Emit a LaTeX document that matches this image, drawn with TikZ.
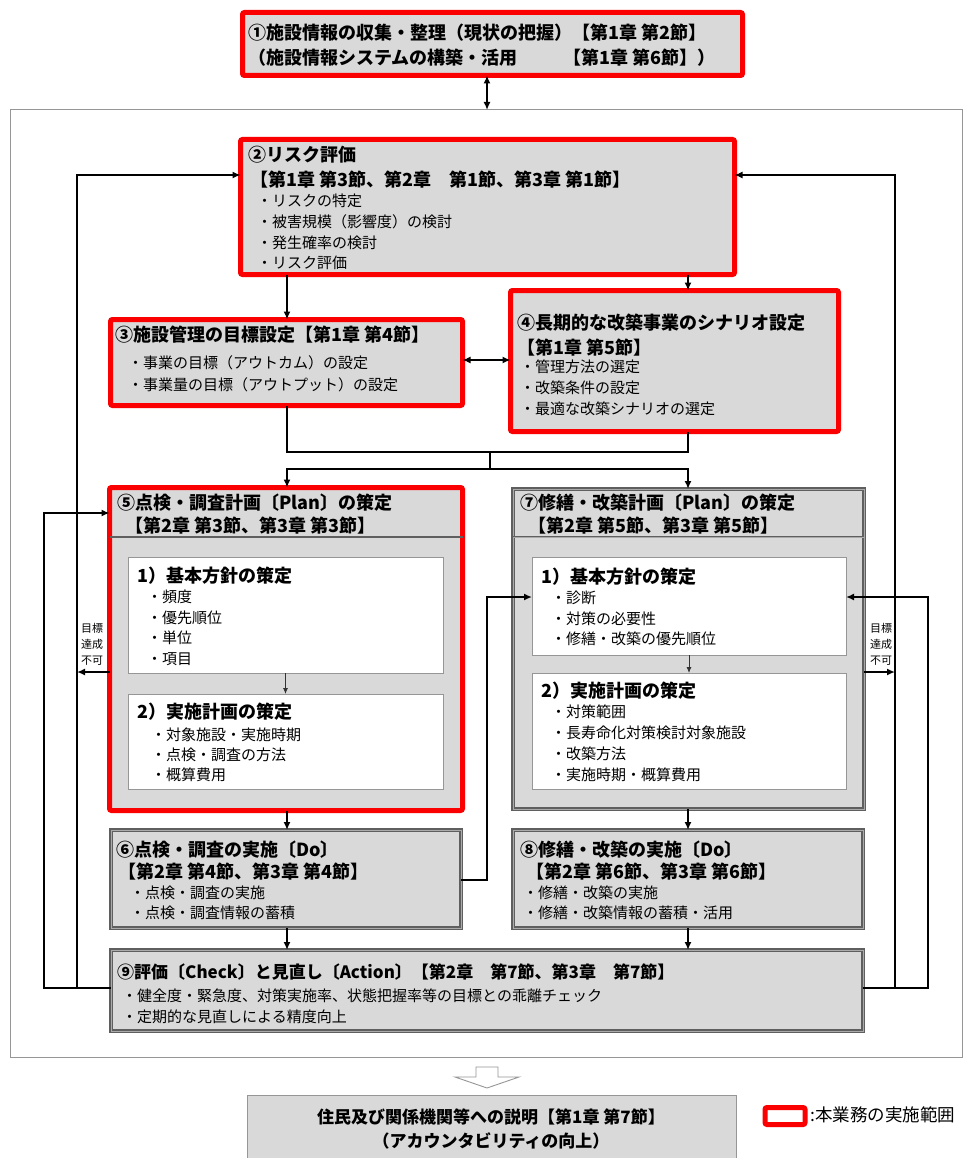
\documentclass[tikz,border=0pt]{standalone}
\usepackage{fontspec}
\setmainfont{Noto Sans CJK JP}
\usetikzlibrary{arrows.meta}
\definecolor{boxfill}{RGB}{217,217,217}
\definecolor{redline}{RGB}{250,0,0}
\definecolor{bordergray}{RGB}{95,95,95}
\definecolor{bevelgray}{RGB}{170,170,170}
\definecolor{thingray}{RGB}{150,150,150}
\newcommand{\mkbox}[6]{\node[#1, anchor=north west, minimum width={(#5-#3)*1pt}, minimum height={(#6-#4)*1pt}] (#2) at (#3,#4) {};}
\tikzset{
  redbox/.style={draw=redline, line width=5pt, fill=boxfill, rounded corners=2pt, inner sep=0pt, outer sep=0pt},
  legbox/.style={draw=redline, line width=5pt, fill=white, rounded corners=2pt, inner sep=0pt, outer sep=0pt},
  graybox/.style={draw=bordergray, double=bevelgray, double distance=1pt, line width=1.4pt, fill=boxfill, inner sep=0pt, outer sep=0pt},
  whitebox/.style={draw=thingray, line width=1pt, fill=white, inner sep=0pt, outer sep=0pt},
  framebox/.style={draw=thingray, line width=1pt, fill=none, inner sep=0pt, outer sep=0pt},
  plainbox/.style={draw=thingray, line width=1pt, fill=boxfill, inner sep=0pt, outer sep=0pt},
  ttl/.style={anchor=west, font=\bfseries\fontsize{18}{18}\selectfont, inner sep=0pt},
  ttlb/.style={anchor=west, font=\bfseries\fontsize{17}{17}\selectfont, inner sep=0pt},
  itm/.style={anchor=west, font=\fontsize{15}{15}\selectfont, inner sep=0pt},
  conn/.style={draw=black, line width=1.8pt, -{Latex[length=8pt,width=7pt]}},
  dconn/.style={draw=black, line width=1.8pt, {Latex[length=8pt,width=7pt]}-{Latex[length=8pt,width=7pt]}},
  thinconn/.style={draw=black!80, line width=0.8pt, -{Latex[length=6pt,width=5pt]}},
  wire/.style={draw=black, line width=1.8pt},
  seprule/.style={draw=bordergray, line width=2pt},
  smalllbl/.style={align=center, font=\fontsize{11}{16}\selectfont, inner sep=0pt},
}
\begin{document}
\begin{tikzpicture}[x=1pt,y=-1pt]
\useasboundingbox (0,0) rectangle (965,1158);
\fill[white] (0,0) rectangle (965,1158);

% frame
\mkbox{framebox}{fr}{10}{110}{962}{1057}

% boxes
\mkbox{redbox}{b1}{242.5}{12.5}{742.5}{75.5}
\mkbox{redbox}{b2}{240.5}{139.5}{734.5}{274.5}
\mkbox{redbox}{b3}{110.5}{319.5}{462.5}{405.5}
\mkbox{redbox}{b4}{510.5}{290.5}{838.5}{431.5}
\mkbox{redbox}{b5}{109.5}{487.5}{462.5}{810.5}
\mkbox{graybox}{b7}{513}{489}{864}{809}
\mkbox{graybox}{b6}{111}{830}{461}{928}
\mkbox{graybox}{b8}{513}{830}{863}{928}
\mkbox{graybox}{b9}{111}{950}{863}{1031}
\mkbox{plainbox}{b10}{247}{1095}{736}{1175}

% header separators
\coordinate (ysep) at (0,537);
\draw[seprule] (b5.west |- ysep) -- (b5.east |- ysep);
\draw[draw=bordergray, double=bevelgray, double distance=0.8pt, line width=1pt] (b7.west |- ysep) -- (b7.east |- ysep);

% inner boxes
\mkbox{whitebox}{b5a}{128}{557}{443}{673}
\mkbox{whitebox}{b5b}{128}{694}{443}{789}
\mkbox{whitebox}{b7a}{532}{557}{846}{655}
\mkbox{whitebox}{b7b}{532}{673}{846}{789}

% texts box 1
\node[ttl] (t1a) at (248,33) {①施設情報の収集・整理（現状の把握）【第1章 第2節】};
\node[ttl] (t1b) at (248,58) {（施設情報システムの構築・活用};
\node[ttl] (t1c) at (563,58) {【第1章 第6節】）};

% box 2
\node[ttl] (t2a) at (248,155) {②リスク評価};
\node[ttl] (t2b) at (250,180) {【第1章 第3節、第2章　第1節、第3章 第1節】};
\node[itm] (t2c) at (257,201) {・リスクの特定};
\node[itm] (t2d) at (257,222) {・被害規模（影響度）の検討};
\node[itm] (t2e) at (257,243) {・発生確率の検討};
\node[itm] (t2f) at (257,263) {・リスク評価};

% box 3
\node[ttl] (t3a) at (115,335) {③施設管理の目標設定【第1章 第4節】};
\node[itm] (t3b) at (128,363) {・事業の目標（アウトカム）の設定};
\node[itm] (t3c) at (128,385) {・事業量の目標（アウトプット）の設定};

% box 4
\node[ttl] (t4a) at (517,323) {④長期的な改築事業のシナリオ設定};
\node[ttl] (t4b) at (517,348) {【第1章 第5節】};
\node[itm] (t4c) at (520,367) {・管理方法の選定};
\node[itm] (t4d) at (520,388) {・改築条件の設定};
\node[itm] (t4e) at (520,409) {・最適な改築シナリオの選定};

% box 5
\node[ttl] (t5a) at (117,503) {⑤点検・調査計画〔Plan〕の策定};
\node[ttl] (t5b) at (125,526) {【第2章 第3節、第3章 第3節】};
\node[ttl] (t5c) at (137,576) {1）基本方針の策定};
\node[itm] (t5d) at (147,597) {・頻度};
\node[itm] (t5e) at (147,618) {・優先順位};
\node[itm] (t5f) at (147,638) {・単位};
\node[itm] (t5g) at (147,659) {・項目};
\node[ttl] (t5h) at (137,712) {2）実施計画の策定};
\node[itm] (t5i) at (151,735) {・対象施設・実施時期};
\node[itm] (t5j) at (151,755) {・点検・調査の方法};
\node[itm] (t5k) at (151,775) {・概算費用};

% box 7
\node[ttl] (t7a) at (520,503) {⑦修繕・改築計画〔Plan〕の策定};
\node[ttl] (t7b) at (528,526) {【第2章 第5節、第3章 第5節】};
\node[ttl] (t7c) at (541,577) {1）基本方針の策定};
\node[itm] (t7d) at (551,598) {・診断};
\node[itm] (t7e) at (551,619) {・対策の必要性};
\node[itm] (t7f) at (551,639) {・修繕・改築の優先順位};
\node[ttl] (t7g) at (541,691) {2）実施計画の策定};
\node[itm] (t7h) at (551,712) {・対策範囲};
\node[itm] (t7i) at (551,733) {・長寿命化対策検討対象施設};
\node[itm] (t7j) at (551,754) {・改築方法};
\node[itm] (t7k) at (551,775) {・実施時期・概算費用};

% box 6
\node[ttl] (t6a) at (116,850) {⑥点検・調査の実施〔Do〕};
\node[ttl] (t6b) at (118,872) {【第2章 第4節、第3章 第4節】};
\node[itm] (t6c) at (130,893) {・点検・調査の実施};
\node[itm] (t6d) at (130,913) {・点検・調査情報の蓄積};

% box 8
\node[ttl] (t8a) at (520,850) {⑧修繕・改築の実施〔Do〕};
\node[ttl] (t8b) at (526,872) {【第2章 第6節、第3章 第6節】};
\node[itm] (t8c) at (523,893) {・修繕・改築の実施};
\node[itm] (t8d) at (523,913) {・修繕・改築情報の蓄積・活用};

% box 9
\node[ttlb] (t9a) at (117,972) {⑨評価〔Check〕と見直し〔Action〕【第2章　第7節、第3章　第7節】};
\node[itm] (t9b) at (122,996) {・健全度・緊急度、対策実施率、状態把握率等の目標との乖離チェック};
\node[itm] (t9c) at (122,1017) {・定期的な見直しによる精度向上};

% box 10
\node[anchor=center, font=\bfseries\fontsize{17}{17}\selectfont, inner sep=0pt] (t10a) at (491,1117) {住民及び関係機関等への説明【第1章 第7節】};
\node[anchor=center, font=\bfseries\fontsize{17}{17}\selectfont, inner sep=0pt] (t10b) at (491,1141) {（アカウンタビリティの向上）};

% labels
\node[smalllbl] (lblL) at (92,644) {目標\\達成\\不可};
\node[smalllbl] (lblR) at (881,644) {目標\\達成\\不可};

% legend
\mkbox{legbox}{leg}{765}{1107.5}{805}{1124.5}
\node[anchor=west, font=\fontsize{17.5}{17.5}\selectfont, inner sep=0pt] (legt) at (810,1115) {:本業務の実施範囲};

% hollow arrow
\draw[draw=thingray, fill=white, line width=0.9pt] (476,1067) -- (498,1067) -- (498,1077) -- (519,1077) -- (487,1088) -- (455,1077) -- (476,1077) -- cycle;

% coordinates for connectors
\coordinate (cJ) at (487,0);
\coordinate (cL) at (287,0);
\coordinate (cR) at (688,0);
\coordinate (cM) at (490,0);
\coordinate (lo) at (44,0);
\coordinate (li) at (77,0);
\coordinate (ri) at (895,0);
\coordinate (ro) at (928,0);
\coordinate (hA) at (0,452);
\coordinate (hB) at (0,469);
\coordinate (hC) at (0,988);
\coordinate (y175) at (0,175);
\coordinate (y360) at (0,360);
\coordinate (y513) at (0,513);
\coordinate (y597) at (0,597);
\coordinate (y672) at (0,672);
\coordinate (y880) at (0,880);

% connectors
\draw[dconn] (b1.south -| cJ) -- (fr.north -| cJ);
\draw[conn] (b2.south -| cL) -- (b3.north -| cL);
\draw[conn] (b2.south -| cR) -- (b4.north -| cR);
\draw[dconn] (b3.east |- y360) -- (b4.west |- y360);
\draw[wire] (b3.south -| cL) -- (cL |- hA) -- (cR |- hA) -- (b4.south -| cR);
\draw[wire] (cM |- hA) -- (cM |- hB);
\draw[conn] (cM |- hB) -| (b5.north -| cL);
\draw[conn] (cM |- hB) -| (b7.north -| cR);
\draw[conn] (b5.south -| cL) -- (b6.north -| cL);
\draw[conn] (b6.south -| cL) -- (b9.north -| cL);
\draw[conn] (b7.south -| cR) -- (b8.north -| cR);
\draw[conn] (b8.south -| cR) -- (b9.north -| cR);
\draw[thinconn] (b5a.south) -- (b5b.north);
\draw[thinconn] (b7a.south) -- (b7b.north);
\draw[conn] (b6.east |- y880) -- (cJ |- y880) |- (b7a.west |- y597);
\draw[conn] (b5.west |- y672) -- (li |- y672);
\draw[conn] (b7.east |- y672) -- (ri |- y672);
\draw[conn] (b9.west |- hC) -- (lo |- hC) |- (b5.west |- y513);
\draw[conn] (li |- hC) |- (b2.west |- y175);
\draw[conn] (b9.east |- hC) -- (ro |- hC) |- (b7a.east |- y597);
\draw[conn] (ri |- hC) |- (b2.east |- y175);
\end{tikzpicture}
\end{document}
